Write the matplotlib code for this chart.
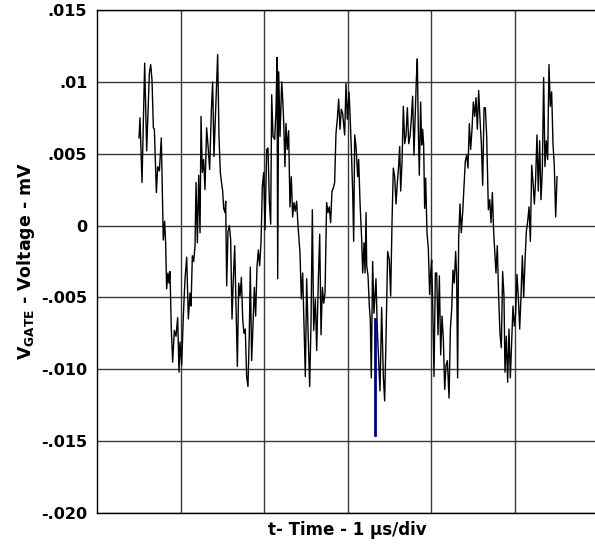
import numpy as np
import matplotlib
matplotlib.use("Agg")
import matplotlib.pyplot as plt

# gate voltage trace, time in divisions (1 us/div), voltage in axis units
time_us = [
    0.503, 0.515, 0.539, 0.571, 0.595, 0.627, 0.643, 0.659, 0.675, 0.687,
    0.711, 0.727, 0.747, 0.770, 0.794, 0.810, 0.822, 0.834, 0.850, 0.862,
    0.874, 0.890, 0.906, 0.926, 0.946, 0.966, 0.982, 0.994, 1.014, 1.034,
    1.054, 1.074, 1.094, 1.114, 1.126, 1.142, 1.158, 1.174, 1.186, 1.202,
    1.218, 1.234, 1.246, 1.261, 1.277, 1.293, 1.313, 1.333, 1.349, 1.369,
    1.385, 1.401, 1.417, 1.433, 1.445, 1.461, 1.477, 1.489, 1.505, 1.517,
    1.533, 1.541, 1.553, 1.569, 1.585, 1.601, 1.617, 1.633, 1.649, 1.665,
    1.681, 1.697, 1.713, 1.729, 1.745, 1.760, 1.776, 1.792, 1.808, 1.824,
    1.836, 1.852, 1.868, 1.884, 1.900, 1.916, 1.932, 1.948, 1.964, 1.980,
    1.996, 2.012, 2.032, 2.048, 2.064, 2.080, 2.092, 2.108, 2.128, 2.144,
    2.156, 2.164, 2.176, 2.192, 2.212, 2.224, 2.236, 2.251, 2.263, 2.279,
    2.295, 2.311, 2.327, 2.343, 2.359, 2.375, 2.391, 2.407, 2.431, 2.447,
    2.463, 2.479, 2.495, 2.511, 2.527, 2.547, 2.563, 2.579, 2.595, 2.615,
    2.631, 2.651, 2.667, 2.683, 2.699, 2.715, 2.731, 2.750, 2.766, 2.782,
    2.798, 2.814, 2.830, 2.846, 2.862, 2.878, 2.894, 2.910, 2.926, 2.942,
    2.966, 2.982, 2.998, 3.018, 3.030, 3.046, 3.062, 3.074, 3.086, 3.102,
    3.122, 3.134, 3.150, 3.170, 3.182, 3.198, 3.210, 3.222, 3.230, 3.246,
    3.261, 3.273, 3.285, 3.301, 3.317, 3.341, 3.357, 3.373, 3.389, 3.409,
    3.429, 3.445, 3.461, 3.481, 3.501, 3.517, 3.533, 3.549, 3.565, 3.581,
    3.597, 3.613, 3.625, 3.637, 3.653, 3.669, 3.685, 3.701, 3.717, 3.733,
    3.749, 3.764, 3.780, 3.796, 3.824, 3.836, 3.848, 3.860, 3.876, 3.888,
    3.900, 3.912, 3.924, 3.936, 3.952, 3.968, 3.984, 3.996, 4.008, 4.020,
    4.036, 4.052, 4.068, 4.084, 4.100, 4.116, 4.132, 4.148, 4.164, 4.180,
    4.196, 4.216, 4.232, 4.248, 4.263, 4.279, 4.295, 4.307, 4.319, 4.331,
    4.347, 4.363, 4.379, 4.395, 4.411, 4.427, 4.443, 4.459, 4.475, 4.491,
    4.507, 4.523, 4.539, 4.555, 4.571, 4.587, 4.603, 4.619, 4.635, 4.651,
    4.667, 4.687, 4.703, 4.719, 4.735, 4.750, 4.762, 4.778, 4.794, 4.810,
    4.826, 4.842, 4.858, 4.874, 4.886, 4.902, 4.918, 4.934, 4.950, 4.966,
    4.982, 4.998, 5.014, 5.030, 5.046, 5.062, 5.078, 5.094, 5.110, 5.126,
    5.142, 5.158, 5.174, 5.190, 5.206, 5.222, 5.238, 5.253, 5.269, 5.285,
    5.301, 5.317, 5.333, 5.349, 5.365, 5.381, 5.397, 5.413, 5.429, 5.445,
    5.461, 5.477, 5.493, 5.509,
]
v_gate = [
    0.0061, 0.0075, 0.0030, 0.0113, 0.0052, 0.0106, 0.0112, 0.0101, 0.0068, 0.0067,
    0.0023, 0.0041, 0.0038, 0.0061, -0.0010, 0.0003, -0.0012, -0.0044, -0.0033, -0.0040,
    -0.0032, -0.0072, -0.0095, -0.0073, -0.0077, -0.0064, -0.0102, -0.0081, -0.0097, -0.0063,
    -0.0037, -0.0022, -0.0065, -0.0047, -0.0056, -0.0021, -0.0025, -0.0014, 0.0030, -0.0012,
    0.0035, -0.0005, 0.0076, 0.0037, 0.0046, 0.0025, 0.0068, 0.0053, 0.0039, 0.0079,
    0.0100, 0.0048, 0.0075, 0.0100, 0.0119, 0.0062, 0.0037, 0.0031, 0.0024, 0.0012,
    0.0009, 0.0017, -0.0042, -0.0004, 0.0000, -0.0010, -0.0065, -0.0037, -0.0014, -0.0056,
    -0.0098, -0.0040, -0.0049, -0.0036, -0.0065, -0.0075, -0.0072, -0.0105, -0.0112, -0.0075,
    -0.0029, -0.0094, -0.0070, -0.0043, -0.0063, -0.0029, -0.0017, -0.0028, -0.0012, 0.0027,
    0.0037, -0.0003, 0.0053, 0.0054, 0.0017, 0.0001, 0.0091, 0.0062, 0.0060, 0.0081,
    0.0117, -0.0037, 0.0107, 0.0062, 0.0100, 0.0088, 0.0072, 0.0041, 0.0071, 0.0053,
    0.0066, 0.0013, 0.0034, 0.0006, 0.0016, 0.0010, 0.0017, 0.0000, -0.0019, -0.0051,
    -0.0033, -0.0068, -0.0105, -0.0037, -0.0072, -0.0112, -0.0068, 0.0011, -0.0073, -0.0051,
    -0.0087, -0.0037, -0.0006, -0.0076, -0.0043, -0.0054, -0.0047, 0.0016, 0.0009, 0.0013,
    0.0002, 0.0024, 0.0026, 0.0030, 0.0064, 0.0074, 0.0088, 0.0067, 0.0081, 0.0078,
    0.0063, 0.0099, 0.0074, 0.0093, 0.0078, 0.0053, 0.0023, -0.0011, 0.0063, 0.0055,
    0.0034, 0.0046, 0.0016, -0.0010, -0.0033, -0.0012, -0.0033, 0.0009, -0.0028, -0.0035,
    -0.0056, -0.0065, -0.0106, -0.0025, -0.0061, -0.0037, -0.0072, -0.0094, -0.0115, -0.0057,
    -0.0105, -0.0122, -0.0079, -0.0018, -0.0024, -0.0049, 0.0002, 0.0040, 0.0034, 0.0015,
    0.0030, 0.0042, 0.0055, 0.0024, 0.0044, 0.0083, 0.0057, 0.0063, 0.0082, 0.0057,
    0.0062, 0.0074, 0.0090, 0.0049, 0.0101, 0.0116, 0.0067, 0.0035, 0.0086, 0.0056,
    0.0067, 0.0056, 0.0012, 0.0033, -0.0005, -0.0016, -0.0048, -0.0033, -0.0024, -0.0054,
    -0.0105, -0.0033, -0.0033, -0.0076, -0.0035, -0.0090, -0.0063, -0.0079, -0.0114, -0.0097,
    -0.0094, -0.0120, -0.0072, -0.0058, -0.0031, -0.0040, -0.0018, -0.0035, -0.0106, -0.0010,
    0.0015, -0.0005, 0.0009, 0.0027, 0.0045, 0.0049, 0.0040, 0.0071, 0.0053, 0.0067,
    0.0086, 0.0076, 0.0089, 0.0067, 0.0094, 0.0074, 0.0057, 0.0028, 0.0082, 0.0082,
    0.0062, 0.0011, 0.0018, 0.0002, 0.0023, -0.0004, -0.0017, -0.0033, -0.0014, -0.0049,
    -0.0075, -0.0085, -0.0032, -0.0049, -0.0102, -0.0077, -0.0109, -0.0072, -0.0106, -0.0080,
    -0.0056, -0.0070, -0.0061, -0.0034, -0.0050, -0.0072, -0.0049, -0.0021, -0.0050, -0.0024,
    -0.0004, 0.0003, 0.0013, -0.0011, 0.0042, 0.0030, 0.0015, 0.0032, 0.0063, 0.0024,
    0.0059, 0.0018, 0.0038, 0.0103, 0.0041, 0.0059, 0.0046, 0.0112, 0.0083, 0.0093,
    0.0057, 0.0041, 0.0006, 0.0034,
]

# blue marker segment
marker_t = [3.329, 3.329]
marker_v = [-0.0065, -0.0146]

y_ticks = [0.015, 0.01, 0.005, 0, -0.005, -0.010, -0.015, -0.020]
y_tick_labels = [".015", ".01", ".005", "0", "-.005", "-.010", "-.015", "-.020"]

plt.rcParams["font.family"] = ["DejaVu Sans"]
plt.rcParams["mathtext.fontset"] = "dejavusans"

fig = plt.figure(figsize=(5.95, 5.48), dpi=100)
ax = fig.add_axes([97 / 595, 35 / 548, 501 / 595, 503 / 548])

ax.plot(time_us, v_gate, color="black", lw=1.0)
ax.plot(marker_t, marker_v, color="#000080", lw=2.0)

ax.set_xlim(0, 6)
ax.set_ylim(-0.020, 0.015)
ax.set_xticks([1, 2, 3, 4, 5])
ax.set_xticklabels([])
ax.set_yticks(y_ticks)
ax.set_yticklabels(y_tick_labels, fontsize=11.5, fontweight="bold")
ax.tick_params(axis="y", length=0, pad=7)
ax.tick_params(axis="x", length=0, pad=2)
ax.grid(True, color="#383838", lw=1.0)
ax.set_axisbelow(True)
for s in ax.spines.values():
    s.set_color("black")
    s.set_linewidth(1.0)

ax.set_ylabel("V$_{\\mathbf{GATE}}$ - Voltage - mV", fontsize=12.5, fontweight="bold", labelpad=3)
ax.set_xlabel("t- Time - 1 \u00b5s/div", fontsize=12, fontweight="bold", labelpad=4)

fig.savefig("out.png", dpi=100)
